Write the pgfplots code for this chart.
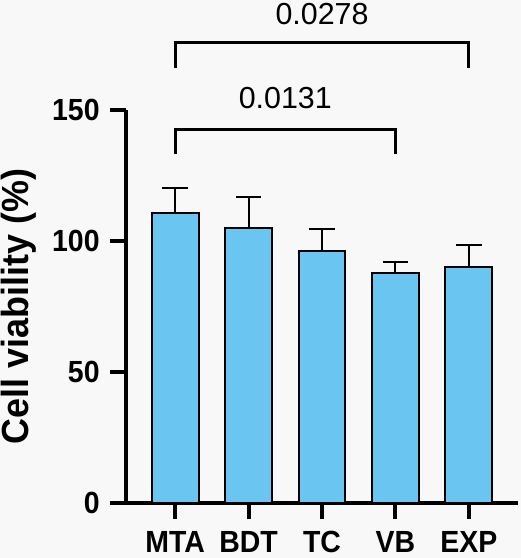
\documentclass[border=0pt]{standalone}
\usepackage{fontspec}
\setmainfont{Liberation Sans}
\newfontfamily\tickfont[FakeStretch=0.93]{Liberation Sans}
\newfontfamily\labelfont[FakeStretch=0.95]{Liberation Sans}
\usepackage{pgfplots}
\pgfplotsset{compat=1.18}
\usetikzlibrary{backgrounds}
\definecolor{barblue}{RGB}{106,198,240}
\definecolor{bg}{RGB}{248,248,248}

\begin{document}
\begin{tikzpicture}[show background rectangle,
  background rectangle/.style={fill=bg, draw=none}, inner frame sep=0pt]
\begin{axis}[
    name=ax,
    scale only axis,
    width=196pt, height=196.5pt,
    xmin=-0.67, xmax=4.67,
    ymin=0, ymax=150,
    clip=false,
    axis lines*=left,
    axis line style={line width=2pt, black},
    tick align=outside,
    major tick length=8pt,
    tick style={line width=2pt, black},
    xtick={0,1,2,3,4},
    xticklabels={MTA, BDT, TC, VB, EXP},
    ytick={0,50,100,150},
    /pgf/number format/assume math mode=true,
    tick label style={font=\tickfont\bfseries\fontsize{15.3}{18}\selectfont},
    xticklabel style={inner sep=0pt, anchor=north, yshift=-6pt},
    yticklabel style={inner sep=0pt, anchor=east, xshift=-5pt},
    ylabel={Cell viability (\%)},
    every axis y label/.style={at={(axis description cs:-0.274,0.5)},
      rotate=90, anchor=center, inner sep=0pt,
      font=\labelfont\bfseries\fontsize{18.9}{22}\selectfont},
]
\addplot[ybar, bar width=0.64, fill=barblue, draw=black, line width=1pt,
    error bars/.cd, y dir=plus, y explicit,
    error bar style={line width=1pt, black},
    error mark options={rotate=90, mark size=6.4pt, line width=1pt, black}]
  coordinates {
    (0,110.7) +- (0,9.5)
    (1,105.0) +- (0,11.8)
    (2,96.2)  +- (0,8.4)
    (3,87.8)  +- (0,4.2)
    (4,90.1)  +- (0,8.4)
  };
% significance brackets
\draw[line width=1.5pt] (axis cs:0,133.2) |- (axis cs:3,142.7) -- (axis cs:3,133.2);
\draw[line width=1.5pt] (axis cs:0,166) |- (axis cs:4,175.6) -- (axis cs:4,166);
\node[inner sep=0pt, font=\fontsize{15.2}{18}\selectfont] at (axis cs:1.5,154.6) {0.0131};
\node[inner sep=0pt, font=\fontsize{15.2}{18}\selectfont] at (axis cs:2,186.6) {0.0278};
\end{axis}
\pgfresetboundingbox
\path ([xshift=-63pt,yshift=-27.5pt]ax.south west)
  rectangle ([xshift=1.5pt,yshift=55pt]ax.north east);
\end{tikzpicture}
\end{document}
